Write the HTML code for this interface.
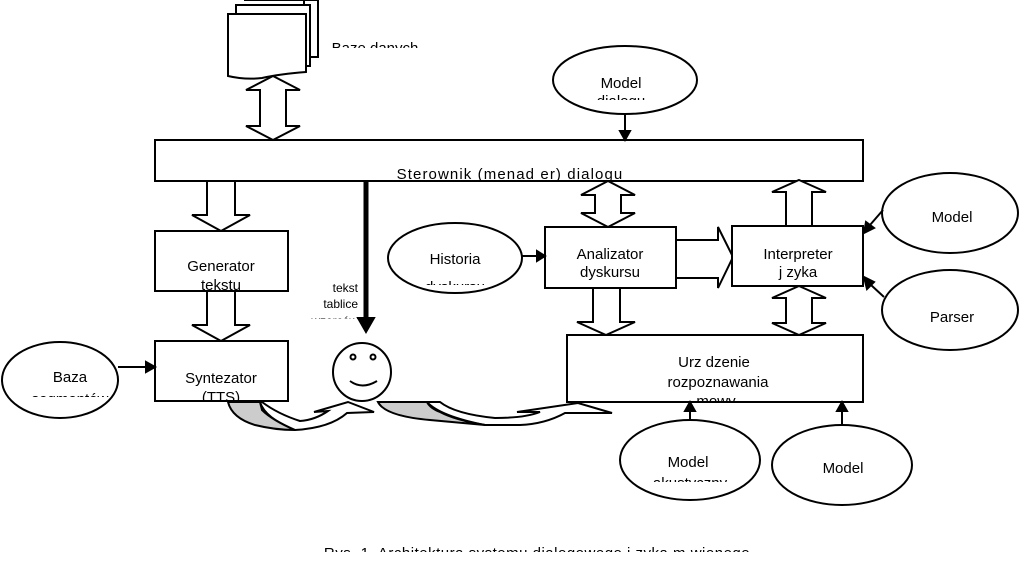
<!DOCTYPE html>
<html><head><meta charset="utf-8"><style>
html,body{margin:0;padding:0;background:#fff;}
svg{display:block;}
text{font-family:"Liberation Sans",sans-serif;fill:#000;}
</style></head><body>
<svg width="1023" height="563" viewBox="0 0 1023 563" xmlns="http://www.w3.org/2000/svg">
<g fill="#fff" stroke="#000" stroke-width="2">
<path d="M244 0 L318 0 L318 57 L304 57 L304 0 Z"/>
<path d="M236 5 L310 5 L310 66 L236 66 Z"/>
<path d="M228 14 L306 14 L306 72 Q280 74 262 78 Q245 80 228 76 Z"/>
<rect x="155" y="140" width="708" height="41"/>
<polygon points="273,76 300,90 286,90 286,126 300,126 273,140 246,126 260,126 260,90 246,90"/>
<polygon points="207,181 235,181 235,215 250,215 221,231 192,215 207,215"/>
<polygon points="207,291 235,291 235,325 250,325 221,341 192,325 207,325"/>
<polygon points="608,181 635,195 621,195 621,213 635,213 608,227 581,213 595,213 595,195 581,195"/>
<polygon points="593,288 620,288 620,322 635,322 606,335 577,322 593,322"/>
<polygon points="799,180 826,192 812,192 812,226 786,226 786,192 772,192"/>
<polygon points="799,286 826,298 812,298 812,323 826,323 799,335 772,323 786,323 786,298 772,298"/>
<polygon points="676,240 718,240 718,227 733,257 718,288 718,278 676,278"/>
<rect x="155" y="231" width="133" height="60"/>
<rect x="155" y="341" width="133" height="60"/>
<rect x="545" y="227" width="131" height="61"/>
<rect x="732" y="226" width="131" height="60"/>
<rect x="567" y="335" width="296" height="67"/>
<ellipse cx="625" cy="80" rx="72" ry="34"/>
<ellipse cx="455" cy="258" rx="67" ry="35"/>
<ellipse cx="60" cy="380" rx="58" ry="38"/>
<ellipse cx="950" cy="213" rx="68" ry="40"/>
<ellipse cx="950" cy="310" rx="68" ry="40"/>
<ellipse cx="690" cy="460" rx="70" ry="40"/>
<ellipse cx="842" cy="465" rx="70" ry="40"/>
<circle cx="362" cy="372" r="29"/>
</g>
<circle cx="353" cy="357" r="2.5" fill="#fff" stroke="#000" stroke-width="2"/>
<circle cx="373" cy="357" r="2.5" fill="#fff" stroke="#000" stroke-width="2"/>
<path d="M350 381 Q362 390 377 381" fill="none" stroke="#000" stroke-width="2"/>
<!-- curved arrows -->
<path d="M260,402 Q265,418 295,430 Q330,428 347,413 L374,412 L348,402 L314,412 L328,411 Q315,420 300,421 Q278,414 262,402 Z" fill="#fff" stroke="#000" stroke-width="2"/>
<path d="M228,402 Q232,418 255,425 Q275,430 295,430 Q272,420 262,410 L260,402 Z" fill="#ccc" stroke="#000" stroke-width="2"/>
<path d="M427,402 Q440,416 485,425 L520,425 Q545,424 565,413 L612,413 L578,403 L517,412 L540,412 Q525,418 495,418 Q455,414 440,402 Z" fill="#fff" stroke="#000" stroke-width="2"/>
<path d="M378,402 Q385,416 430,420 L485,425 Q455,420 440,412 Q430,408 427,402 Z" fill="#ccc" stroke="#000" stroke-width="2"/>
<g stroke="#000" stroke-width="2" fill="#000">
<line x1="625" y1="114" x2="625" y2="132"/><polygon points="620,131 630,131 625,140"/>
<line x1="522" y1="256" x2="538" y2="256"/><polygon points="537,251 537,261 545,256"/>
<line x1="118" y1="367" x2="147" y2="367"/><polygon points="146,362 146,372 155,367"/>
<line x1="883" y1="210" x2="870" y2="225"/><polygon points="864,233 866,222 874,228"/>
<line x1="884" y1="297" x2="871" y2="285"/><polygon points="864,277 874,282 867,289"/>
<line x1="690" y1="420" x2="690" y2="410"/><polygon points="685,411 695,411 690,402"/>
<line x1="842" y1="425" x2="842" y2="410"/><polygon points="837,411 847,411 842,402"/>
<line x1="366" y1="181" x2="366" y2="320" stroke-width="5"/><polygon points="358,318 374,318 366,332"/>
</g>
<g font-size="15" text-anchor="middle">
<svg x="300" y="30" width="200" height="18"><text x="75" y="23">Baze danych</text></svg>
<svg x="300" y="160" width="420" height="20"><text x="210" y="19" letter-spacing="1.1" text-decoration="underline">Sterownik (menad er) dialogu</text></svg>
<svg x="560" y="70" width="130" height="30"><text x="61" y="18">Model</text><text x="61" y="36">dialogu</text></svg>
<text x="221" y="271">Generator</text>
<svg x="160" y="276" width="120" height="15"><text x="61" y="14">tekstu</text></svg>
<text x="221" y="383">Syntezator</text>
<svg x="160" y="388" width="120" height="13"><text x="61" y="14">(TTS)</text></svg>
<text x="70" y="382">Baza</text>
<svg x="10" y="390" width="100" height="7"><text x="60" y="14">segmentów</text></svg>
<text x="455" y="264">Historia</text>
<svg x="390" y="276" width="130" height="9"><text x="65" y="16">dyskursu</text></svg>
<text x="610" y="259">Analizator</text>
<text x="610" y="277">dyskursu</text>
<text x="798" y="259">Interpreter</text>
<text x="798" y="277">j  zyka</text>
<text x="952" y="222">Model</text>
<svg x="900" y="226" width="100" height="4"><text x="52" y="16">j</text></svg>
<text x="952" y="322">Parser</text>
<text x="714" y="367">Urz  dzenie</text>
<text x="718" y="387">rozpoznawania</text>
<svg x="650" y="394" width="130" height="7"><text x="66" y="12">mowy</text></svg>
<text x="688" y="467">Model</text>
<svg x="620" y="472" width="140" height="10"><text x="70" y="16">akustyczny</text></svg>
<text x="843" y="473">Model</text>
<svg x="780" y="478" width="130" height="4"><text x="65" y="16">językowy</text></svg>
<svg x="250" y="538" width="560" height="14"><text x="287" y="20" letter-spacing="0.5">Rys. 1. Architektura systemu dialogowego j  zyka m  wionego</text></svg>
</g>
<g font-size="12" text-anchor="end">
<text x="358" y="292">tekst</text>
<text x="358" y="308">tablice</text>
<svg x="300" y="312" width="60" height="7"><text x="58" y="13">wzorców</text></svg>
</g>
</svg>
</body></html>
